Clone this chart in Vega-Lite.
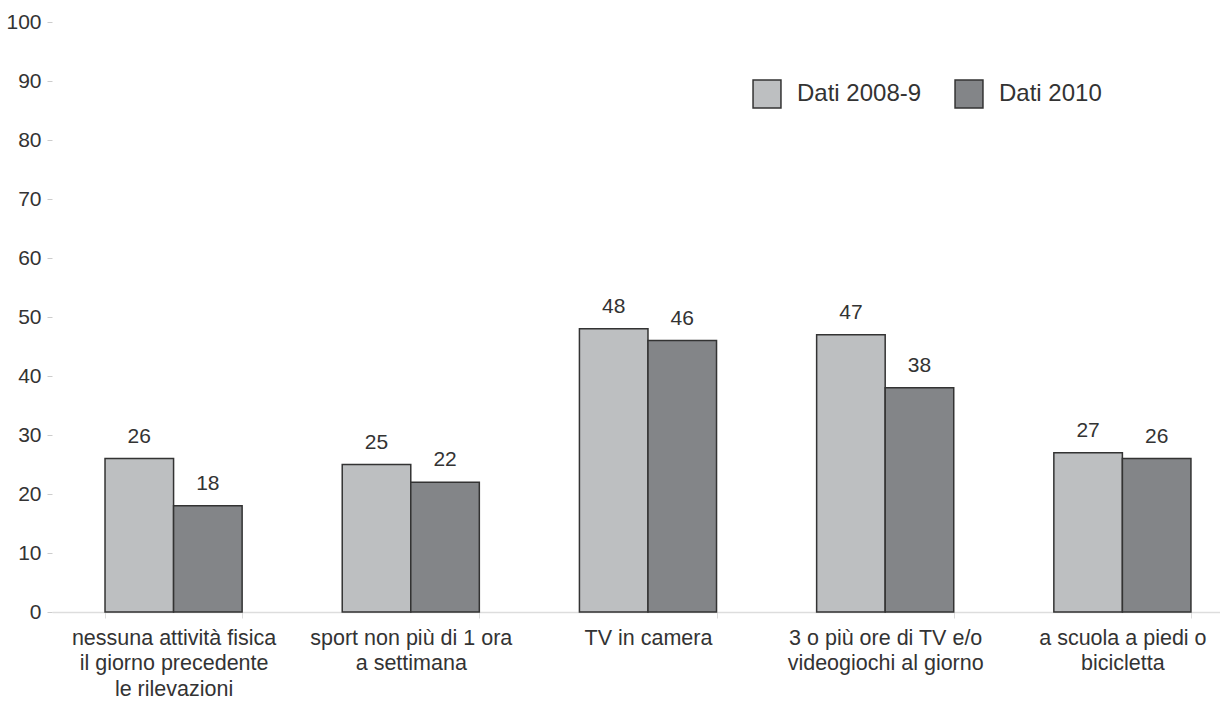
{
  "$schema": "https://vega.github.io/schema/vega-lite/v6.json",
  "width": 1168,
  "height": 590,
  "padding": {"left": 52, "right": 0, "top": 22, "bottom": 91},
  "autosize": {"type": "none"},
  "background": "white",
  "config": {
    "view": {"stroke": null},
    "font": "Liberation Sans",
    "text": {"font": "Liberation Sans"}
  },
  "data": {
    "values": [
      {"cat": "nessuna attività fisica|il giorno precedente|le rilevazioni", "ord": 1, "serie": "Dati 2008-9", "v": 26},
      {"cat": "nessuna attività fisica|il giorno precedente|le rilevazioni", "ord": 1, "serie": "Dati 2010", "v": 18},
      {"cat": "sport non più di 1 ora|a settimana", "ord": 2, "serie": "Dati 2008-9", "v": 25},
      {"cat": "sport non più di 1 ora|a settimana", "ord": 2, "serie": "Dati 2010", "v": 22},
      {"cat": "TV in camera", "ord": 3, "serie": "Dati 2008-9", "v": 48},
      {"cat": "TV in camera", "ord": 3, "serie": "Dati 2010", "v": 46},
      {"cat": "3 o più ore di TV e/o|videogiochi al giorno", "ord": 4, "serie": "Dati 2008-9", "v": 47},
      {"cat": "3 o più ore di TV e/o|videogiochi al giorno", "ord": 4, "serie": "Dati 2010", "v": 38},
      {"cat": "a scuola a piedi o|bicicletta", "ord": 5, "serie": "Dati 2008-9", "v": 27},
      {"cat": "a scuola a piedi o|bicicletta", "ord": 5, "serie": "Dati 2010", "v": 26}
    ]
  },
  "encoding": {
    "x": {
      "field": "cat",
      "type": "nominal",
      "sort": {"field": "ord"},
      "scale": {"paddingInner": 0.422, "paddingOuter": 0.173, "align": 0.646},
      "axis": {
        "title": null,
        "labelAngle": 0,
        "labelExpr": "split(datum.label, '|')",
        "labelFont": "Liberation Sans",
        "labelFontSize": 21.5,
        "labelColor": "#333333",
        "labelLineHeight": 25.5,
        "labelPadding": 9,
        "labelBaseline": "top",
        "labelLimit": 0,
        "domainColor": "#dddddd",
        "domainWidth": 1.5,
        "tickBand": "extent",
        "tickColor": "#dddddd",
        "tickSize": 6
      }
    },
    "xOffset": {"field": "serie", "type": "nominal", "scale": {"paddingInner": 0, "paddingOuter": 0}},
    "y": {
      "field": "v",
      "type": "quantitative",
      "scale": {"domain": [0, 100]},
      "axis": {
        "title": null,
        "values": [0, 10, 20, 30, 40, 50, 60, 70, 80, 90, 100],
        "grid": false,
        "domain": false,
        "tickColor": "#cccccc",
        "tickSize": 5,
        "labelPadding": 6,
        "labelFont": "Liberation Sans",
        "labelFontSize": 21,
        "labelColor": "#333333"
      }
    }
  },
  "layer": [
    {
      "mark": {"type": "bar", "stroke": "#333333", "strokeWidth": 1.5},
      "encoding": {
        "color": {
          "field": "serie",
          "type": "nominal",
          "scale": {"domain": ["Dati 2008-9", "Dati 2010"], "range": ["#bdbfc1", "#838588"]},
          "legend": {
            "title": null,
            "orient": "none",
            "legendX": 700,
            "legendY": 57,
            "direction": "horizontal",
            "symbolType": "square",
            "symbolSize": 780,
            "symbolStrokeColor": "#333333",
            "symbolStrokeWidth": 1.5,
            "symbolOpacity": 1,
            "labelFont": "Liberation Sans",
            "labelFontSize": 24,
            "labelColor": "#333333",
            "labelOffset": 15,
            "labelLimit": 0,
            "columnPadding": 30,
            "padding": 0
          }
        }
      }
    },
    {
      "mark": {"type": "text", "baseline": "middle", "dy": -22, "fontSize": 21, "color": "#333333", "font": "Liberation Sans"},
      "encoding": {"text": {"field": "v", "type": "quantitative"}}
    }
  ]
}
